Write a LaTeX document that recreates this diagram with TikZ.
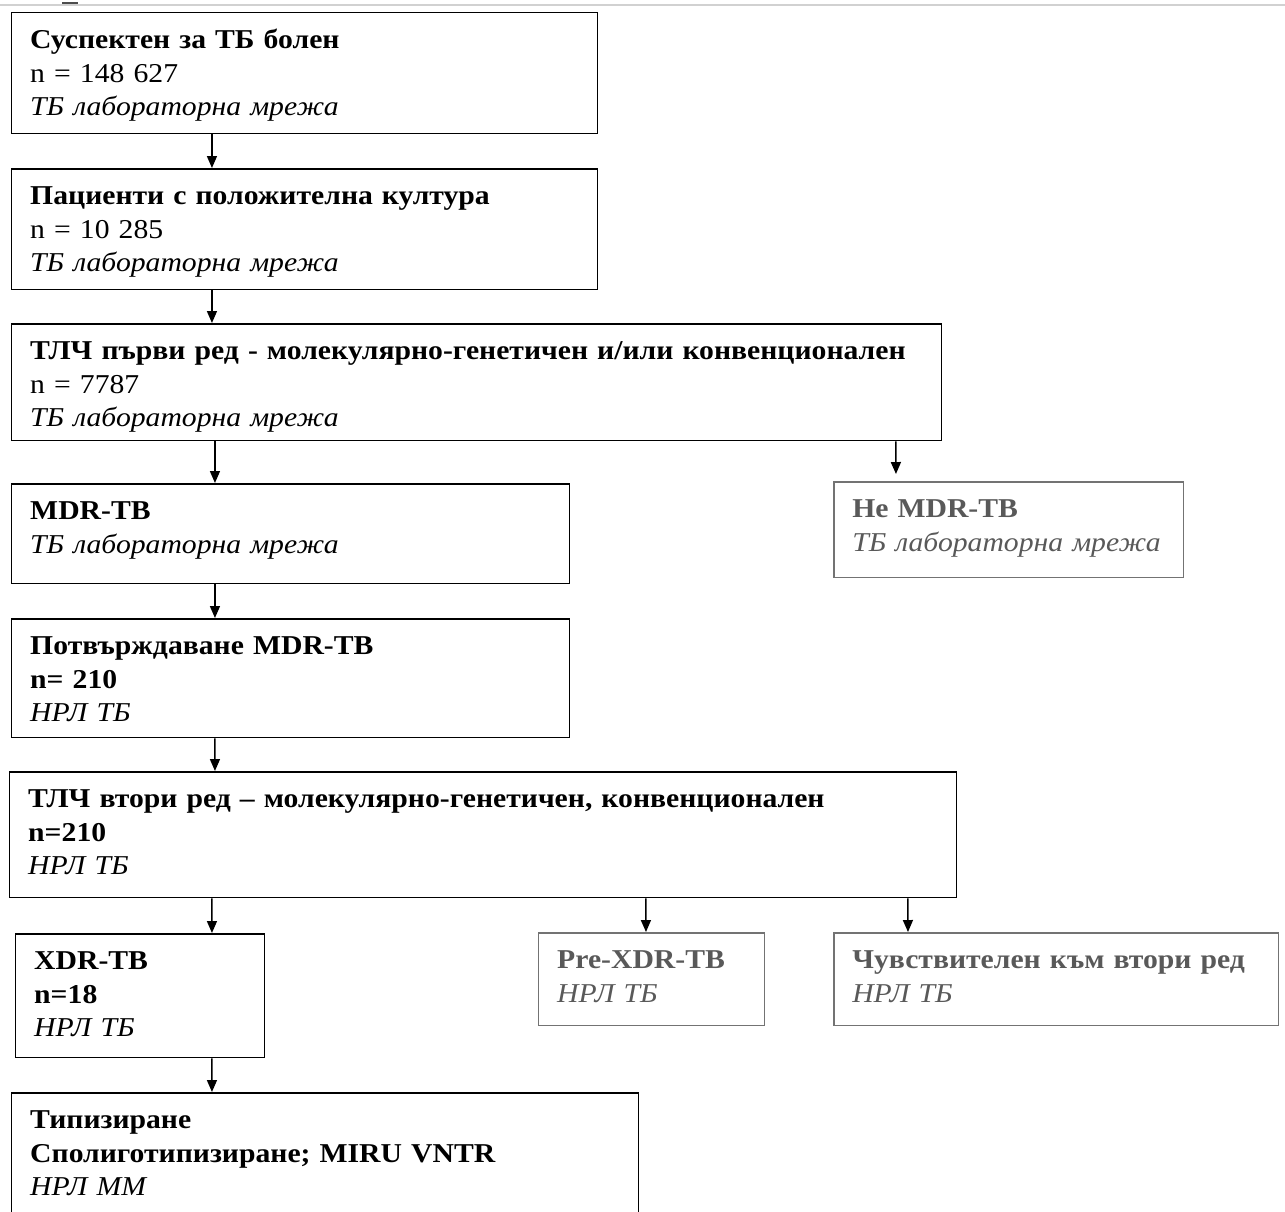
\documentclass[tikz,border=0pt]{standalone}
\usepackage{fontspec}
\setmainfont{Liberation Serif}[FakeStretch=1.09]
\usetikzlibrary{arrows.meta, positioning}
\usepackage{xcolor}

\begin{document}
\begin{tikzpicture}[
x=0.02cm, y=-0.02cm,
box/.style={draw, rectangle, line width=0.85pt,
anchor=north west, inner xsep=0.37cm, inner ysep=0pt,
text height=0.72cm, align=left,
font=\fontsize{15.5pt}{19.07pt}\selectfont},
gbox/.style={box, draw=black!55, text=black!65},
arrow/.style={-{Triangle[width=0.2cm, length=0.24cm]}, line width=0.85pt}
]
\useasboundingbox (0,0) rectangle (1285,1211);
\draw[black!18, line width=0.6pt] (0,5) -- (1285,5);
\draw[black!70, line width=1pt] (62,3) -- (78,3);

\node[box, text width=10.98cm, text depth=1.70cm] (suspect) at (11,12)
{\textbf{Суспектен за ТБ болен}\\ n = 148 627\\ \textit{ТБ лабораторна мрежа}};
\node[box, text width=10.98cm, text depth=1.70cm] (culture) at (11,168)
{\textbf{Пациенти с положителна култура}\\ n = 10 285\\ \textit{ТБ лабораторна мрежа}};
\node[box, text width=17.86cm, text depth=1.62cm] (dst1) at (11,323)
{\textbf{ТЛЧ първи ред - молекулярно-генетичен и/или конвенционален}\\ n = 7787\\ \textit{ТБ лабораторна мрежа}};
\node[box, text width=10.42cm, text depth=1.28cm] (mdr) at (11,483)
{\textbf{MDR-TB}\\ \textit{ТБ лабораторна мрежа}};
\node[gbox, text width=6.26cm, text depth=1.20cm] (nonmdr) at (833,481)
{\textbf{Не MDR-TB}\\ \textit{ТБ лабораторна мрежа}};
\node[box, text width=10.42cm, text depth=1.66cm] (confirm) at (11,618)
{\textbf{Потвърждаване MDR-TB}\\ \textbf{n= 210}\\ \textit{НРЛ ТБ}};
\node[box, text width=18.2cm, text depth=1.80cm] (dst2) at (9,771)
{\textbf{ТЛЧ втори ред – молекулярно-генетичен, конвенционален}\\ \textbf{n=210}\\ \textit{НРЛ ТБ}};
\node[box, text width=4.24cm, text depth=1.76cm] (xdr) at (15,933)
{\textbf{XDR-TB}\\ \textbf{n=18}\\ \textit{НРЛ ТБ}};
\node[gbox, text width=3.78cm, text depth=1.14cm] (prexdr) at (538,932)
{\textbf{Pre-XDR-TB}\\ \textit{НРЛ ТБ}};
\node[gbox, text width=8.16cm, text depth=1.14cm] (sens) at (833,932)
{\textbf{Чувствителен към втори ред}\\ \textit{НРЛ ТБ}};
\node[box, text width=11.8cm, text depth=2.4cm] (typing) at (11,1092)
{\textbf{Типизиране}\\ \textbf{Сполиготипизиране; MIRU VNTR}\\ \textit{НРЛ ММ}};

\draw[arrow] ([xshift=4.02cm]suspect.south west) -- ([xshift=4.02cm]culture.north west);
\draw[arrow] ([xshift=4.02cm]culture.south west) -- ([xshift=4.02cm]dst1.north west);
\draw[arrow] ([xshift=4.08cm]dst1.south west) -- ([xshift=4.08cm]mdr.north west);
\draw[arrow, shorten >=0.14cm] ([xshift=17.7cm]dst1.south west) -- ([xshift=1.26cm]nonmdr.north west);
\draw[arrow] ([xshift=4.08cm]mdr.south west) -- ([xshift=4.08cm]confirm.north west);
\draw[arrow] ([xshift=4.08cm]confirm.south west) -- ([xshift=4.12cm]dst2.north west);
\draw[arrow] ([xshift=4.06cm]dst2.south west) -- ([xshift=3.94cm]xdr.north west);
\draw[arrow] ([xshift=12.74cm]dst2.south west) -- ([xshift=2.16cm]prexdr.north west);
\draw[arrow] ([xshift=17.98cm]dst2.south west) -- ([xshift=1.5cm]sens.north west);
\draw[arrow] ([xshift=3.94cm]xdr.south west) -- ([xshift=4.02cm]typing.north west);

\end{tikzpicture}
\end{document}
